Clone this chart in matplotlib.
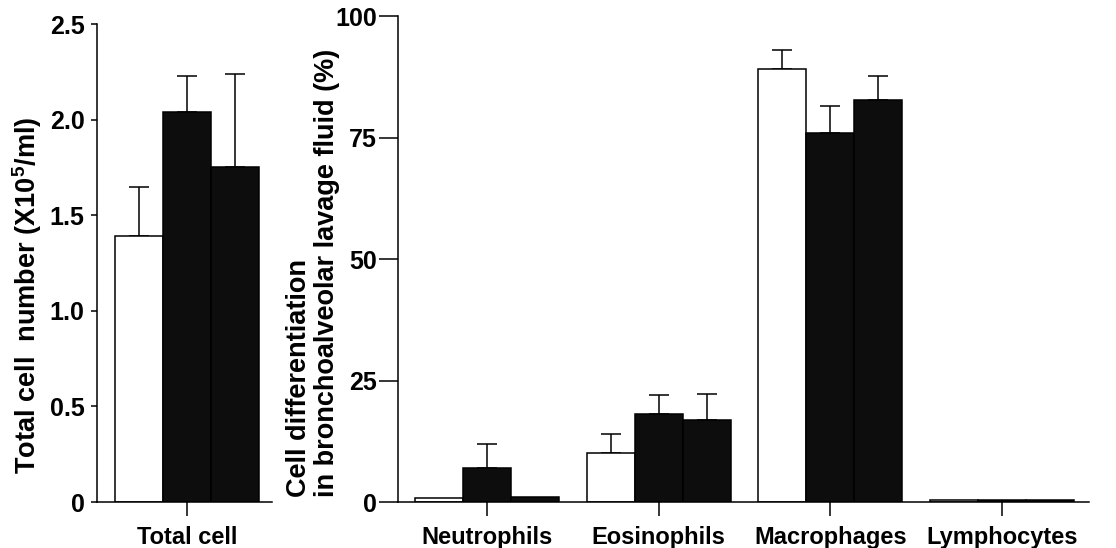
import matplotlib
matplotlib.use("Agg")
import matplotlib.pyplot as plt
import numpy as np

plt.rcParams['font.family'] = ['Liberation Sans', 'DejaVu Sans']
plt.rcParams['font.weight'] = 'bold'

# left panel: total cell number (x10^5/ml)
total_mean = [1.39, 2.04, 1.75]
total_err = [0.26, 0.19, 0.49]

# right panel: cell differentiation (%)
cell_types = ["Neutrophils", "Eosinophils", "Macrophages", "Lymphocytes"]
grp1_mean = [0.9, 10.1, 89.0, 0.5]
grp1_err = [0.0, 3.9, 4.0, 0.0]
grp2_mean = [7.1, 18.2, 76.0, 0.5]
grp2_err = [4.8, 3.9, 5.5, 0.0]
grp3_mean = [1.0, 16.8, 82.8, 0.5]
grp3_err = [0.0, 5.4, 4.8, 0.0]

fig = plt.figure(figsize=(11.16, 5.48), dpi=100)
ax1 = fig.add_axes([0.0869, 0.0839, 0.1568, 0.8723])
ax2 = fig.add_axes([0.3566, 0.0839, 0.6192, 0.8869])

colors = ["white", "#0d0d0d", "#0d0d0d"]
lw = 1.1

# left
xs = np.array([-1, 0, 1])
for x, m, e, c in zip(xs, total_mean, total_err, colors):
    ax1.bar(x, m, width=1.0, color=c, edgecolor="black", linewidth=lw, zorder=2)
    ax1.errorbar(x, m, yerr=[[0], [e]], fmt="none", ecolor="black",
                 elinewidth=lw, capsize=7, capthick=lw, zorder=1)
ax1.set_xlim(-1.875, 1.77)
ax1.set_ylim(0, 2.5)
ax1.set_yticks([0, 0.5, 1.0, 1.5, 2.0, 2.5])
ax1.set_yticklabels(["0", "0.5", "1.0", "1.5", "2.0", "2.5"])
ax1.set_xticks([0])
ax1.set_xticklabels(["Total cell"])
ax1.set_ylabel("Total cell  number (X10$\\mathregular{^5}$/ml)", fontsize=19.5,
               fontweight="bold")
ax1.yaxis.set_label_coords(-0.30, 0.433)
ax1.tick_params(axis="y", length=4, width=lw, pad=5, labelsize=18)
ax1.tick_params(axis="x", length=10, width=lw, pad=7, labelsize=17)

# right
pos = np.arange(len(cell_types))
w = 0.28
series = [(grp1_mean, grp1_err), (grp2_mean, grp2_err), (grp3_mean, grp3_err)]
for i, ((means, errs), c) in enumerate(zip(series, colors)):
    xx = pos + (i - 1) * w
    ax2.bar(xx, means, width=w, color=c, edgecolor="black", linewidth=lw, zorder=2)
    for x, m, e in zip(xx, means, errs):
        if e > 0:
            ax2.errorbar(x, m, yerr=[[0], [e]], fmt="none", ecolor="black",
                         elinewidth=lw, capsize=7, capthick=lw, zorder=1)
ax2.set_xlim(-0.518, 3.506)
ax2.set_ylim(0, 100)
ax2.set_yticks([0, 25, 50, 75, 100])
ax2.set_xticks(pos)
ax2.set_xticklabels(cell_types)
ax2.set_ylabel("Cell differentiation\nin bronchoalveolar lavage fluid (%)",
               fontsize=19.5, fontweight="bold", multialignment="left",
               linespacing=1.1)
ax2.yaxis.set_label_coords(-0.084, 0.472)
ax2.tick_params(axis="y", length=14, width=lw, pad=1, labelsize=18)
ax2.tick_params(axis="x", length=10, width=lw, pad=7, labelsize=17)

for ax in (ax1, ax2):
    ax.spines["top"].set_visible(False)
    ax.spines["right"].set_visible(False)
    ax.spines["left"].set_linewidth(lw)
    ax.spines["bottom"].set_linewidth(lw)
    for t in ax.get_xticklabels() + ax.get_yticklabels():
        t.set_fontweight("bold")

fig.savefig("out.png", dpi=100)
